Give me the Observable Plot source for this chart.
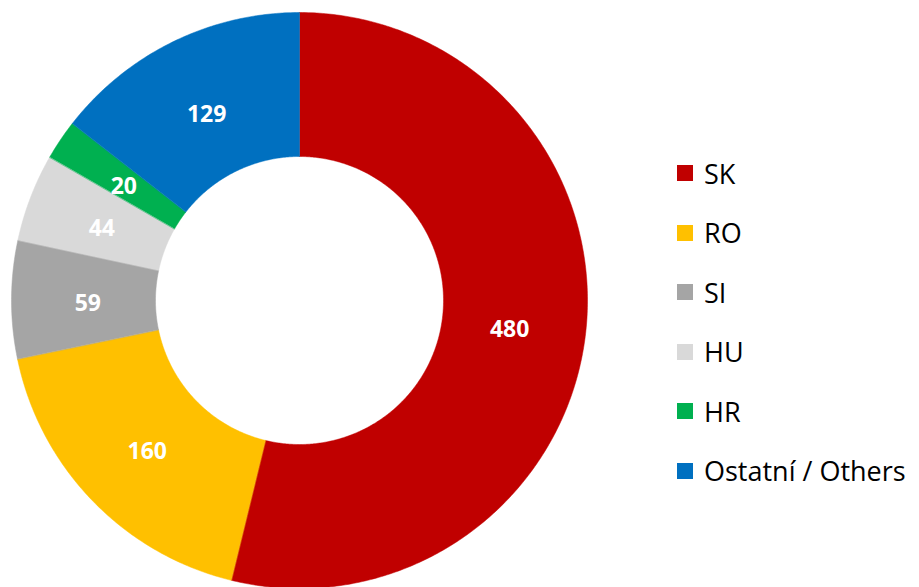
<!DOCTYPE html>
<html>
<head>
<meta charset="utf-8">
<script src="https://cdn.jsdelivr.net/npm/d3@7"></script>
<script src="https://cdn.jsdelivr.net/npm/@observablehq/plot@0.6"></script>
<style>
  html, body { margin: 0; padding: 0; background: #fff; }
  #wrap { position: relative; width: 919px; height: 587px; }
  #legend { position: absolute; left: 677px; top: 155px; font-family: "Open Sans", Lato, sans-serif; font-size: 27px; color: #000; }
  .item { display: flex; align-items: center; height: 36px; margin-bottom: 23.6px; white-space: nowrap; }
  .sw { width: 16px; height: 16px; margin-right: 11px; flex: none; }
</style>
</head>
<body>
<div id="wrap"><div id="legend"></div></div>
<script>
const categories = ["SK", "RO", "SI", "HU", "HR", "Ostatní / Others"];
const values = [480, 160, 59, 44, 20, 129];
const colors = ["#C00000", "#FFC000", "#A5A5A5", "#D9D9D9", "#00B050", "#0070C0"];

const innerR = 0.5, outerR = 1, labelR = 0.735;
const arcs = d3.pie().sort(null).value(d => d.value)(categories.map((c, i) => ({key: c, value: values[i]})));

const poly = [];
const labels = [];
for (const a of arcs) {
  const n = Math.max(8, Math.ceil((a.endAngle - a.startAngle) / 0.01));
  for (let k = 0; k <= n; k++) {
    const t = a.startAngle + (a.endAngle - a.startAngle) * k / n;
    poly.push({key: a.data.key, x: outerR * Math.sin(t), y: outerR * Math.cos(t)});
  }
  for (let k = n; k >= 0; k--) {
    const t = a.startAngle + (a.endAngle - a.startAngle) * k / n;
    poly.push({key: a.data.key, x: innerR * Math.sin(t), y: innerR * Math.cos(t)});
  }
  const m = (a.startAngle + a.endAngle) / 2;
  labels.push({key: a.data.key, value: a.data.value, x: labelR * Math.sin(m), y: labelR * Math.cos(m)});
}

const chart = Plot.plot({
  width: 919,
  height: 587,
  margin: 0,
  x: {domain: [-1, 1], range: [11, 587], axis: null},
  y: {domain: [-1, 1], range: [588, 12], axis: null},
  color: {domain: categories, range: colors},
  marks: [
    Plot.line(poly, {x: "x", y: "y", z: "key", fill: "key", stroke: "key", strokeWidth: 0.5, curve: "linear-closed"}),
    Plot.text(labels, {x: "x", y: "y", dy: 4, text: d => String(d.value), fill: "white", fontSize: 23, fontWeight: "bold", fontFamily: "'Open Sans', Lato, sans-serif"})
  ]
});
chart.style.position = "absolute";
chart.style.left = "0";
chart.style.top = "0";
document.getElementById("wrap").prepend(chart);

const legend = document.getElementById("legend");
categories.forEach((c, i) => {
  const item = document.createElement("div");
  item.className = "item";
  const sw = document.createElement("span");
  sw.className = "sw";
  sw.style.background = colors[i];
  const tx = document.createElement("span");
  tx.textContent = c;
  item.append(sw, tx);
  legend.append(item);
});
</script>
</body>
</html>
